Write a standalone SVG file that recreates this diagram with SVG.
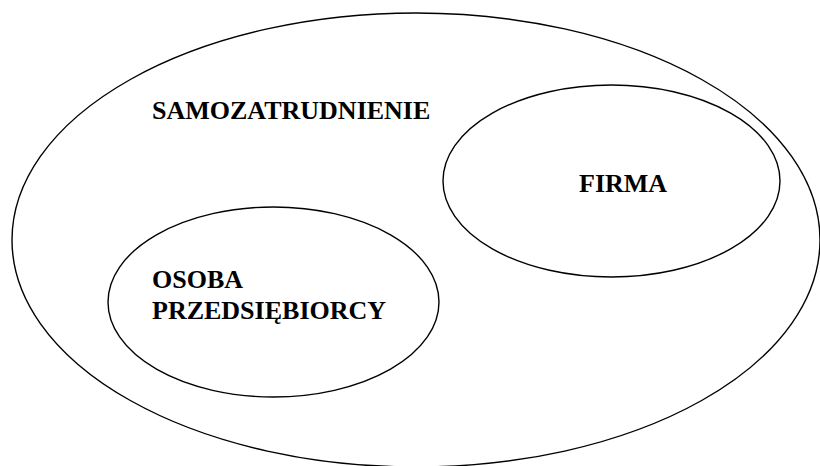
<svg xmlns="http://www.w3.org/2000/svg" width="820" height="466" viewBox="0 0 820 466">
<style>
.sh{fill:none;stroke:#000;stroke-width:1.4}
.t{font-family:"Liberation Serif","Times New Roman",serif;font-weight:bold;font-size:26px;fill:#000}
</style>
<rect width="820" height="466" fill="#fff"/>
<g id="samozatrudnienie">
<ellipse class="sh" cx="416" cy="240" rx="404" ry="227"/>
<text class="t" x="152" y="119">SAMOZATRUDNIENIE</text>
</g>
<g id="firma">
<ellipse class="sh" cx="611.5" cy="181" rx="168.5" ry="96"/>
<text class="t" x="579" y="192">FIRMA</text>
</g>
<g id="osoba">
<ellipse class="sh" cx="273.5" cy="302" rx="165.5" ry="95"/>
<text class="t" x="152" y="288">OSOBA</text>
<text class="t" x="152" y="319">PRZEDSIĘBIORCY</text>
</g>
<g id="connectors"/>
</svg>
